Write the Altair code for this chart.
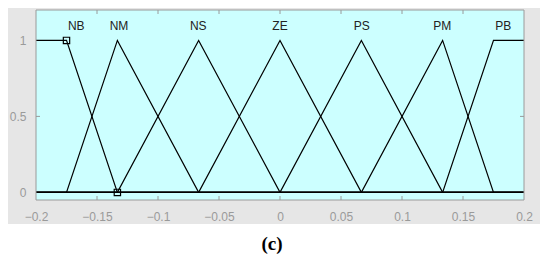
import altair as alt
import pandas as pd

# Membership functions (breakpoints)
mf_names = ["NB", "NM", "NS", "ZE", "PS", "PM", "PB"]
mf_x = [
    [-0.2, -0.175, -0.1333, 0.2],
    [-0.2, -0.175, -0.1333, -0.0667, 0.2],
    [-0.2, -0.1333, -0.0667, 0.0, 0.2],
    [-0.2, -0.0667, 0.0, 0.0667, 0.2],
    [-0.2, 0.0, 0.0667, 0.1333, 0.2],
    [-0.2, 0.0667, 0.1333, 0.175, 0.2],
    [-0.2, 0.1333, 0.175, 0.2],
]
mf_y = [
    [1, 1, 0, 0],
    [0, 0, 1, 0, 0],
    [0, 0, 1, 0, 0],
    [0, 0, 1, 0, 0],
    [0, 0, 1, 0, 0],
    [0, 0, 1, 0, 0],
    [0, 0, 1, 1],
]
label_x = [-0.167, -0.132, -0.067, 0.0, 0.067, 0.133, 0.183]
label_y = [1.1] * 7
marker_x = [-0.175, -0.1333]
marker_y = [1, 0]
x_ticks = [-0.2, -0.15, -0.1, -0.05, 0, 0.05, 0.1, 0.15, 0.2]
y_ticks = [0, 0.5, 1]
caption = "(c)"

W, H = 488, 190
xs = alt.Scale(domain=[-0.2, 0.2], nice=False, zero=False)
ys = alt.Scale(domain=[-0.05, 1.2], nice=False, zero=False)

rows = []
for name, xv, yv in zip(mf_names, mf_x, mf_y):
    for i, (a, b) in enumerate(zip(xv, yv)):
        rows.append({"mf": name, "x": a, "y": b, "o": i})
lines_df = pd.DataFrame(rows)
labels_df = pd.DataFrame({"x": label_x, "y": label_y, "t": mf_names})
mark_df = pd.DataFrame({"x": marker_x, "y": marker_y})
xt_df = pd.DataFrame({"x": x_ticks[1:-1]})
yt_df = pd.DataFrame({"y": [0.5]})
ytr_df = pd.DataFrame({"y": y_ticks})
one = pd.DataFrame({"t": [caption]})

gray = alt.Chart(one).mark_rect(fill="#e6e6e6").encode(
    x=alt.value(-28), x2=alt.value(W + 16), y=alt.value(-2), y2=alt.value(H + 24)
)
cyan = alt.Chart(one).mark_rect(fill="#ccffff").encode(
    x=alt.value(0), x2=alt.value(W), y=alt.value(0), y2=alt.value(H)
)

lines = alt.Chart(lines_df).mark_line(color="black", strokeWidth=1.2).encode(
    x=alt.X("x:Q", scale=xs,
            axis=alt.Axis(values=x_ticks, ticks=False, domain=False, grid=False,
                          labelPadding=11, labelColor="#9a9a9a", labelFontSize=12,
                          labelFont="Liberation Sans", title=None, zindex=1,
                          format="~g", labelFlush=False)),
    y=alt.Y("y:Q", scale=ys,
            axis=alt.Axis(values=y_ticks, ticks=False, domain=False, grid=False,
                          labelPadding=10, labelColor="#9a9a9a", labelFontSize=12,
                          labelFont="Liberation Sans", title=None, zindex=1,
                          format="~g")),
    detail="mf:N",
    order="o:Q",
)

xt_bottom = alt.Chart(xt_df).mark_rule(color="#9a9a9a").encode(
    x=alt.X("x:Q", scale=xs), y=alt.value(H), y2=alt.value(H - 4)
)
xt_top = alt.Chart(xt_df).mark_rule(color="#9a9a9a").encode(
    x=alt.X("x:Q", scale=xs), y=alt.value(0), y2=alt.value(4)
)
yt_left = alt.Chart(yt_df).mark_rule(color="#9a9a9a").encode(
    y=alt.Y("y:Q", scale=ys), x=alt.value(0), x2=alt.value(4)
)
yt_right = alt.Chart(ytr_df).mark_rule(color="#9a9a9a").encode(
    y=alt.Y("y:Q", scale=ys), x=alt.value(W), x2=alt.value(W - 4)
)

markers = alt.Chart(mark_df).mark_point(shape="square", filled=False, color="black",
                                        size=40, strokeWidth=1.2, opacity=1).encode(
    x=alt.X("x:Q", scale=xs), y=alt.Y("y:Q", scale=ys)
)

labels = alt.Chart(labels_df).mark_text(font="Liberation Sans", fontSize=12,
                                        color="#222222", baseline="middle", dy=1).encode(
    x=alt.X("x:Q", scale=xs), y=alt.Y("y:Q", scale=ys), text="t:N"
)

box = alt.Chart(one).mark_rect(fill=None, stroke="#9a9a9a", strokeWidth=1).encode(
    x=alt.value(0), x2=alt.value(W), y=alt.value(0), y2=alt.value(H)
)

cap = alt.Chart(one).mark_text(font="Liberation Serif", fontSize=19, fontWeight="bold",
                               color="black", baseline="middle").encode(
    x=alt.value(236), y=alt.value(234), text="t:N"
)

chart = alt.layer(gray, cyan, xt_bottom, xt_top, yt_left, yt_right, lines, markers,
                  labels, box, cap).properties(
    width=W, height=H,
    padding={"left": 28, "top": 2, "right": 18, "bottom": 54},
    autosize=alt.AutoSizeParams(type="none"),
    background="white",
).configure_view(stroke=None)

chart.save("out.html", embed_options={"renderer": "svg", "actions": False})
